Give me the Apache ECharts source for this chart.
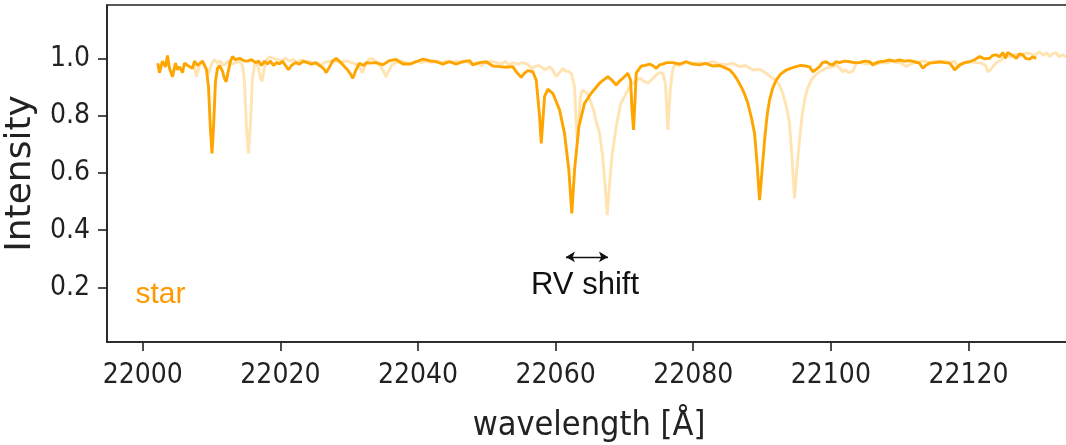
<!DOCTYPE html>
<html>
<head>
<meta charset="utf-8">
<script src="https://cdn.jsdelivr.net/npm/echarts@6/dist/echarts.min.js"></script>
<style>
html,body{margin:0;padding:0;background:#fff;}
#chart{width:1066px;height:445px;}
</style>
</head>
<body>
<div id="chart"></div>
<script>
// Observed star spectrum (wavelength in Å, normalised intensity)
const starSpectrum = [
[22002.18,0.983],[22002.43,0.95],[22002.86,0.99],[22003.30,0.97],[22003.59,1.01],[22003.88,0.965],[22004.32,0.936],[22004.75,0.983],[22005.04,0.96],[22005.33,0.97],[22005.77,0.95],[22006.06,0.983],[22006.50,0.975],[22006.79,0.98],[22007.22,0.965],[22007.51,0.99],[22007.95,0.975],[22008.24,0.98],[22008.68,0.99],[22008.97,0.975],[22009.26,0.96],[22009.55,0.90],[22009.84,0.75],[22010.06,0.668],[22010.28,0.76],[22010.57,0.92],[22010.86,0.965],[22011.15,0.975],[22011.58,0.955],[22011.87,0.93],[22012.12,0.918],[22012.38,0.95],[22012.75,0.99],[22013.04,1.006],[22013.47,0.995],[22014.05,1.0],[22014.64,0.992],[22015.22,0.99],[22015.80,0.995],[22016.38,0.985],[22016.82,0.99],[22017.25,0.975],[22017.69,0.99],[22018.12,0.98],[22018.56,0.99],[22019.00,0.975],[22019.43,0.985],[22019.87,0.98],[22020.30,0.99],[22020.74,0.975],[22021.17,0.96],[22021.61,0.975],[22022.19,0.985],[22022.78,0.98],[22023.36,0.99],[22023.94,0.985],[22024.52,0.98],[22025.10,0.985],[22025.68,0.975],[22026.26,0.965],[22026.66,0.95],[22027.14,0.97],[22027.57,0.99],[22028.11,1.0],[22028.59,0.99],[22029.17,0.975],[22029.75,0.96],[22030.19,0.945],[22030.52,0.93],[22030.91,0.955],[22031.49,0.983],[22032.08,0.975],[22032.51,0.985],[22032.95,0.983],[22033.92,0.985],[22034.88,0.977],[22035.86,0.992],[22036.83,0.996],[22037.79,0.98],[22038.76,0.98],[22039.74,0.988],[22040.70,0.997],[22041.67,0.992],[22042.65,0.988],[22043.60,0.98],[22044.58,0.988],[22045.55,0.98],[22046.51,0.988],[22047.49,0.992],[22047.97,0.977],[22048.94,0.985],[22049.91,0.988],[22050.87,0.973],[22051.85,0.971],[22052.82,0.969],[22053.78,0.971],[22054.27,0.953],[22055.00,0.934],[22055.48,0.948],[22055.96,0.957],[22056.69,0.953],[22057.18,0.924],[22057.66,0.80],[22057.91,0.703],[22058.39,0.866],[22058.87,0.892],[22059.59,0.878],[22060.57,0.82],[22061.29,0.738],[22061.92,0.61],[22062.35,0.459],[22062.75,0.61],[22063.37,0.761],[22064.20,0.843],[22065.17,0.878],[22066.38,0.913],[22067.59,0.936],[22068.12,0.925],[22068.80,0.907],[22069.28,0.92],[22069.77,0.93],[22070.49,0.948],[22070.89,0.924],[22071.10,0.82],[22071.32,0.75],[22071.53,0.85],[22071.71,0.948],[22072.44,0.973],[22073.06,0.975],[22073.65,0.98],[22074.08,0.975],[22074.62,0.965],[22075.10,0.977],[22075.58,0.98],[22076.12,0.985],[22076.56,0.985],[22077.00,0.985],[22078.01,0.98],[22078.98,0.988],[22079.90,0.98],[22080.91,0.977],[22081.79,0.982],[22082.85,0.973],[22083.82,0.975],[22084.79,0.965],[22085.27,0.96],[22085.75,0.948],[22086.29,0.93],[22086.98,0.90],[22087.46,0.875],[22087.94,0.843],[22088.48,0.79],[22088.91,0.738],[22089.28,0.63],[22089.64,0.505],[22090.01,0.61],[22090.37,0.715],[22090.73,0.80],[22091.09,0.854],[22091.53,0.895],[22092.06,0.924],[22092.69,0.945],[22093.52,0.959],[22094.14,0.965],[22094.97,0.971],[22095.60,0.975],[22096.42,0.973],[22096.90,0.97],[22097.38,0.953],[22097.78,0.96],[22098.36,0.971],[22098.79,0.985],[22099.33,0.988],[22099.81,0.98],[22100.29,0.977],[22100.75,0.988],[22101.26,0.985],[22101.98,0.99],[22102.72,0.988],[22103.45,0.985],[22104.17,0.985],[22104.90,0.99],[22105.63,0.988],[22106.10,0.977],[22106.64,0.985],[22107.08,0.988],[22107.80,0.99],[22108.53,0.994],[22109.26,0.99],[22109.98,0.994],[22110.71,0.99],[22111.44,0.992],[22112.17,0.988],[22112.89,0.983],[22113.37,0.965],[22113.76,0.975],[22114.35,0.983],[22115.07,0.985],[22115.80,0.988],[22116.53,0.985],[22117.25,0.983],[22117.69,0.97],[22117.98,0.959],[22118.34,0.968],[22118.71,0.977],[22119.43,0.985],[22120.16,0.988],[22120.89,0.995],[22121.62,1.006],[22122.34,0.998],[22123.07,1.0],[22123.50,1.01],[22124.04,1.012],[22124.52,1.005],[22125.00,1.02],[22125.39,1.0],[22125.68,1.02],[22125.97,1.023],[22126.41,1.01],[22126.94,1.0],[22127.42,1.015],[22127.91,1.012],[22128.30,1.0],[22128.88,0.997],[22129.32,1.005],[22129.85,1.0]
];
// Reference (unshifted) spectrum drawn faintly
const referenceSpectrum = [
[22007.37,0.98],[22007.81,0.936],[22008.24,0.975],[22008.68,0.99],[22009.11,0.97],[22009.55,0.945],[22009.99,0.98],[22010.42,0.995],[22010.86,0.985],[22011.29,0.99],[22011.73,0.975],[22012.17,0.985],[22012.60,0.99],[22013.04,0.98],[22013.47,0.985],[22014.05,0.99],[22014.49,0.975],[22014.78,0.92],[22015.07,0.76],[22015.36,0.668],[22015.65,0.77],[22015.94,0.93],[22016.23,0.975],[22016.52,0.985],[22016.82,0.965],[22017.11,0.93],[22017.35,0.92],[22017.62,0.96],[22017.98,0.995],[22018.41,1.005],[22019.00,1.0],[22019.58,0.995],[22020.16,0.99],[22020.74,1.0],[22021.32,0.99],[22021.90,0.995],[22022.49,0.985],[22023.07,0.995],[22023.65,0.985],[22024.23,0.99],[22024.81,0.98],[22025.39,0.985],[22025.97,0.975],[22026.41,0.985],[22026.99,0.99],[22027.57,0.985],[22028.15,0.99],[22028.73,0.985],[22029.31,0.99],[22029.75,0.99],[22030.33,0.985],[22030.91,0.98],[22031.49,0.97],[22031.89,0.95],[22032.37,0.975],[22032.81,0.995],[22033.34,1.0],[22033.82,0.99],[22034.41,0.975],[22034.99,0.955],[22035.35,0.935],[22035.71,0.955],[22036.29,0.98],[22036.87,0.985],[22037.60,0.99],[22038.32,0.985],[22039.05,0.98],[22039.78,0.99],[22040.51,0.985],[22041.23,0.99],[22041.96,0.985],[22042.69,0.99],[22043.41,0.985],[22044.14,0.99],[22044.87,0.985],[22045.60,0.99],[22046.32,0.985],[22047.05,0.99],[22047.78,0.98],[22048.50,0.985],[22049.23,0.975],[22049.96,0.985],[22050.68,0.99],[22051.41,0.985],[22052.14,0.98],[22052.72,0.99],[22053.15,0.975],[22053.74,0.985],[22054.46,0.98],[22055.19,0.985],[22055.92,0.98],[22056.50,0.965],[22057.08,0.972],[22057.66,0.975],[22058.39,0.96],[22059.11,0.97],[22059.55,0.96],[22060.09,0.936],[22060.57,0.95],[22061.05,0.965],[22061.44,0.955],[22061.88,0.955],[22062.32,0.945],[22062.75,0.90],[22062.97,0.78],[22063.19,0.703],[22063.41,0.80],[22063.63,0.87],[22063.95,0.889],[22064.49,0.88],[22064.93,0.86],[22065.51,0.82],[22065.94,0.775],[22066.38,0.74],[22066.82,0.66],[22067.18,0.56],[22067.50,0.453],[22067.84,0.56],[22068.20,0.66],[22068.80,0.761],[22069.43,0.84],[22070.26,0.878],[22070.89,0.905],[22071.71,0.924],[22072.34,0.93],[22072.78,0.92],[22073.40,0.913],[22073.94,0.925],[22074.62,0.942],[22075.10,0.95],[22075.58,0.948],[22075.97,0.91],[22076.31,0.75],[22076.63,0.88],[22077.00,0.96],[22077.29,0.977],[22078.01,0.975],[22078.88,0.985],[22079.95,0.983],[22080.91,0.985],[22081.79,0.98],[22082.85,0.988],[22083.82,0.98],[22084.79,0.977],[22085.71,0.983],[22086.73,0.971],[22087.60,0.975],[22088.66,0.959],[22089.64,0.962],[22090.61,0.948],[22091.24,0.935],[22092.06,0.924],[22092.54,0.905],[22093.02,0.878],[22093.56,0.83],[22093.99,0.773],[22094.36,0.65],[22094.72,0.511],[22095.08,0.62],[22095.45,0.715],[22095.81,0.80],[22096.18,0.854],[22096.61,0.895],[22097.15,0.924],[22097.78,0.942],[22098.36,0.953],[22099.23,0.965],[22100.29,0.971],[22100.97,0.975],[22101.74,0.953],[22102.14,0.96],[22102.57,0.95],[22103.20,0.955],[22103.74,0.983],[22104.46,0.985],[22105.19,0.98],[22105.91,0.985],[22106.64,0.98],[22107.36,0.985],[22108.09,0.983],[22108.81,0.99],[22109.54,0.985],[22110.27,0.983],[22110.96,0.971],[22111.44,0.978],[22112.17,0.985],[22112.89,0.988],[22113.62,0.99],[22114.35,0.985],[22115.07,0.99],[22115.80,0.985],[22116.53,0.99],[22117.25,0.985],[22117.98,0.99],[22118.56,0.968],[22119.00,0.98],[22119.72,0.985],[22120.45,0.988],[22121.18,0.985],[22121.90,0.983],[22122.49,0.975],[22122.82,0.953],[22123.21,0.96],[22123.65,0.975],[22124.08,0.985],[22124.81,0.995],[22125.49,1.012],[22126.12,1.005],[22126.94,1.015],[22127.57,1.008],[22128.15,1.018],[22128.88,1.017],[22129.60,1.01],[22130.33,1.023],[22130.91,1.01],[22131.35,1.02],[22131.79,1.006],[22132.22,1.015],[22132.76,1.02],[22133.19,1.005],[22133.63,1.012],[22134.06,1.006],[22134.65,1.01]
];
const xTicks = [22000, 22020, 22040, 22060, 22080, 22100, 22120];
const yTicks = [0.2, 0.4, 0.6, 0.8, 1.0];
const xRange = [21994.8, 22134.9];
const yRange = [0.01, 1.186];
const rvArrow = [[22061.5, 0.307], [22067.6, 0.307]];
const rvLabel = {text: 'RV shift', pos: [22064.27, 0.206]};
const starLabel = {text: 'star', pos: [21998.94, 0.174]};

const axisColor = '#222';
const tickFont = 'DejaVu Sans Condensed, DejaVu Sans, sans-serif';

const chart = echarts.init(document.getElementById('chart'), null, {renderer: 'canvas'});
chart.setOption({
  animation: false,
  backgroundColor: '#fff',
  grid: {left: 107, right: -5, top: 5, bottom: 103, show: true, borderColor: axisColor, borderWidth: 1.6, containLabel: false, outerBoundsMode: 'none'},
  xAxis: {
    type: 'value', min: xRange[0], max: xRange[1],
    name: 'wavelength [Å]', nameLocation: 'middle', nameGap: 67,
    nameTextStyle: {fontFamily: tickFont, fontSize: 34, color: axisColor},
    axisLine: {show: true, lineStyle: {color: axisColor, width: 1.6}},
    axisTick: {show: true, length: 9, lineStyle: {color: axisColor, width: 1.6}, customValues: xTicks},
    axisLabel: {show: true, margin: 20, fontFamily: tickFont, fontSize: 28, color: axisColor, customValues: xTicks, formatter: v => String(Math.round(v))},
    splitLine: {show: false}
  },
  yAxis: {
    type: 'value', min: yRange[0], max: yRange[1],
    name: 'Intensity', nameLocation: 'middle', nameGap: 65, nameRotate: 90,
    nameTextStyle: {fontFamily: 'DejaVu Sans, sans-serif', fontSize: 36, color: axisColor},
    axisLine: {show: true, lineStyle: {color: axisColor, width: 1.6}},
    axisTick: {show: true, length: 9, lineStyle: {color: axisColor, width: 1.6}, customValues: yTicks},
    axisLabel: {show: true, margin: 17, fontFamily: tickFont, fontSize: 28, color: axisColor, customValues: yTicks, formatter: v => v.toFixed(1)},
    splitLine: {show: false}
  },
  series: [
    {
      name: 'reference', type: 'line', data: referenceSpectrum, showSymbol: false, symbol: 'none',
      lineStyle: {color: 'rgba(255,165,0,0.3)', width: 2.9}, z: 2
    },
    {
      name: 'star', type: 'line', data: starSpectrum, showSymbol: false, symbol: 'none',
      lineStyle: {color: '#FFA500', width: 2.9}, z: 3,
      markLine: {
        silent: true, symbol: ['arrow', 'arrow'], symbolSize: [8, 9],
        lineStyle: {color: '#111', width: 1.4, type: 'solid'},
        label: {show: false},
        data: [[{coord: rvArrow[0]}, {coord: rvArrow[1]}]]
      },
      markPoint: {
        silent: true, symbol: 'circle', symbolSize: 0,
        data: [
          {coord: rvLabel.pos, label: {show: true, formatter: rvLabel.text, position: 'inside', fontFamily: 'Liberation Sans, Arial, sans-serif', fontSize: 31, color: '#111', align: 'center', verticalAlign: 'middle'}},
          {coord: starLabel.pos, label: {show: true, formatter: starLabel.text, position: 'inside', fontFamily: 'Liberation Sans, Arial, sans-serif', fontSize: 30, color: '#FF9900', align: 'left', verticalAlign: 'middle'}}
        ]
      }
    }
  ]
});
</script>
</body>
</html>
